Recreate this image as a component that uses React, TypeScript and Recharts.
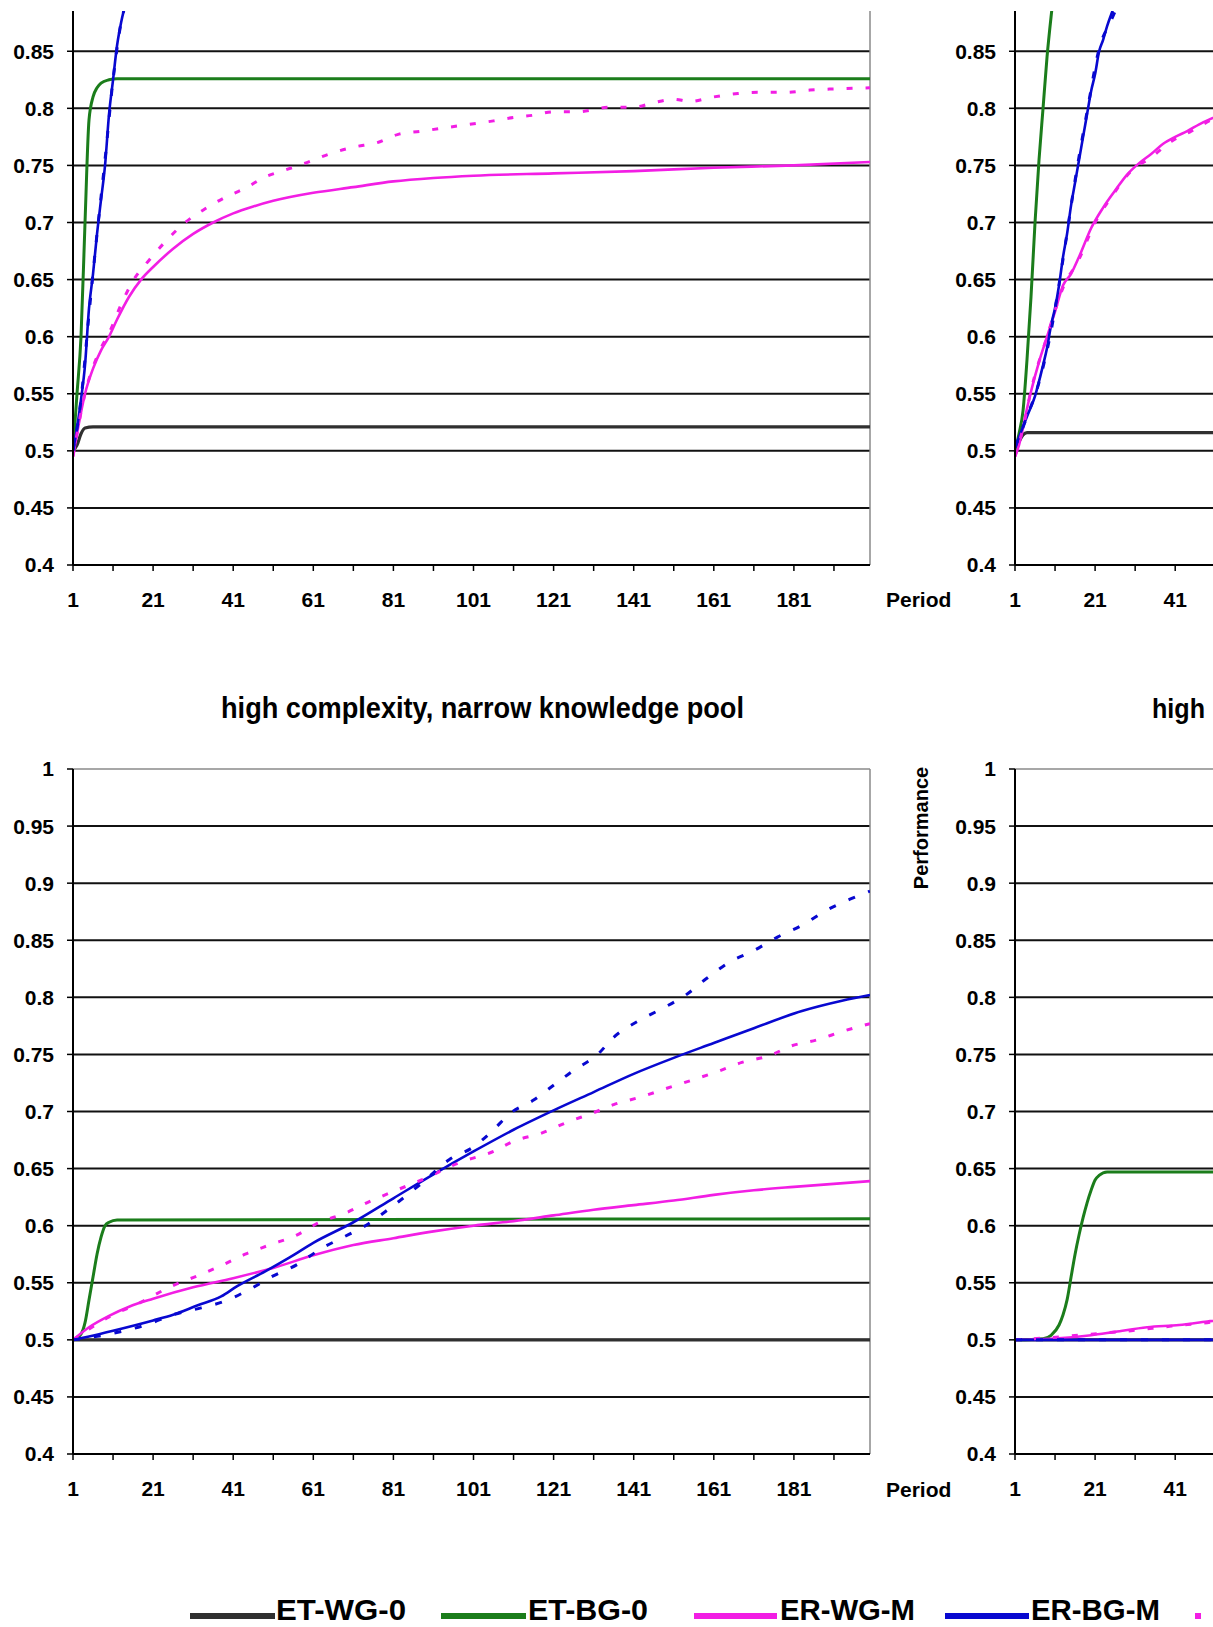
import { LineChart, Line, XAxis, YAxis, ReferenceLine } from 'recharts'

type Pt = [number, number]

// top-left panel
const tlEtWg0: Pt[] = [[1, 0.5], [2, 0.505], [3, 0.515], [4, 0.52], [6, 0.521], [200, 0.521]]
const tlEtBg0: Pt[] = [[1, 0.5], [2, 0.55], [3, 0.6], [4, 0.7], [5, 0.79], [6, 0.81], [7, 0.818], [8, 0.822], [10, 0.825], [12, 0.826], [200, 0.826]]
const tlErWgM: Pt[] = [[1, 0.495], [2, 0.515], [4, 0.55], [6, 0.572], [8, 0.588], [10, 0.6], [12, 0.615], [15, 0.635], [18, 0.65], [21, 0.661], [26, 0.677], [31, 0.69], [36, 0.7], [41, 0.708], [46, 0.714], [51, 0.719], [61, 0.726], [71, 0.731], [81, 0.736], [91, 0.739], [101, 0.741], [121, 0.743], [141, 0.745], [161, 0.748], [181, 0.75], [200, 0.753]]
const tlErBgM: Pt[] = [[1, 0.5], [2, 0.52], [3, 0.545], [4, 0.575], [5, 0.625], [6, 0.655], [7, 0.69], [8, 0.72], [9, 0.75], [10, 0.795], [11, 0.825], [12, 0.855], [13, 0.875], [14, 0.89], [16, 0.91], [20, 0.935], [30, 0.96], [50, 0.975], [100, 0.98], [200, 0.982]]
const tlErWg0: Pt[] = [[1, 0.495], [4, 0.55], [8, 0.59], [10, 0.603], [13, 0.628], [16, 0.649], [20, 0.667], [24, 0.683], [29, 0.7], [34, 0.712], [39, 0.722], [44, 0.73], [49, 0.74], [54, 0.746], [59, 0.752], [65, 0.76], [71, 0.766], [77, 0.77], [82, 0.777], [88, 0.78], [94, 0.783], [100, 0.786], [106, 0.789], [111, 0.792], [116, 0.794], [121, 0.797], [127, 0.797], [135, 0.801], [141, 0.801], [146, 0.805], [151, 0.808], [155, 0.806], [161, 0.81], [167, 0.813], [172, 0.814], [179, 0.814], [185, 0.816], [191, 0.817], [200, 0.818]]
const tlErBg0: Pt[] = [[1, 0.5], [3, 0.545], [5, 0.62], [7, 0.69], [9, 0.755], [11, 0.825], [13, 0.875], [15, 0.9], [20, 0.935], [30, 0.96], [50, 0.975], [100, 0.98], [200, 0.982]]

// top-right panel
const trEtWg0: Pt[] = [[1, 0.5], [2, 0.508], [3, 0.514], [4, 0.516], [200, 0.516]]
const trEtBg0: Pt[] = [[1, 0.5], [2, 0.515], [3, 0.535], [4, 0.58], [5, 0.635], [6, 0.7], [7, 0.755], [8, 0.8], [9, 0.845], [10, 0.88], [11, 0.91], [12, 0.935], [14, 0.96], [18, 0.975], [25, 0.98], [200, 0.98]]
const trErWgM: Pt[] = [[1, 0.495], [2, 0.505], [3, 0.52], [4, 0.537], [5, 0.552], [7, 0.578], [9, 0.6], [11, 0.622], [13, 0.645], [15, 0.655], [17, 0.67], [20, 0.695], [23, 0.713], [26, 0.728], [29, 0.742], [32, 0.752], [35, 0.76], [38, 0.769], [41, 0.775], [44, 0.78], [47, 0.786], [50, 0.791], [60, 0.805], [80, 0.825], [100, 0.838], [140, 0.85], [200, 0.86]]
const trErBgM: Pt[] = [[1, 0.503], [2, 0.512], [4, 0.53], [6, 0.548], [8, 0.575], [9, 0.59], [10, 0.61], [11, 0.625], [12, 0.645], [13, 0.67], [14, 0.69], [15, 0.715], [16, 0.735], [17, 0.755], [18, 0.775], [19, 0.795], [20, 0.815], [21, 0.83], [22, 0.85], [23, 0.86], [24, 0.872], [25, 0.882], [27, 0.9], [30, 0.92], [40, 0.955], [60, 0.975], [100, 0.98], [200, 0.982]]
const trErWg0: Pt[] = [[1, 0.495], [3, 0.52], [5, 0.553], [9, 0.6], [13, 0.643], [17, 0.668], [21, 0.7], [25, 0.722], [30, 0.745], [35, 0.757], [40, 0.771], [45, 0.78], [50, 0.79], [60, 0.806], [80, 0.826], [100, 0.84], [140, 0.853], [200, 0.862]]
const trErBg0: Pt[] = [[1, 0.503], [4, 0.53], [7, 0.56], [10, 0.605], [13, 0.668], [16, 0.737], [19, 0.797], [22, 0.852], [25, 0.877], [28, 0.9], [32, 0.925], [40, 0.95], [60, 0.97], [100, 0.978], [200, 0.98]]

// bottom-left panel (high complexity, narrow knowledge pool)
const blEtWg0: Pt[] = [[1, 0.5], [200, 0.5]]
const blEtBg0: Pt[] = [[1, 0.5], [3, 0.505], [4, 0.515], [5, 0.535], [6, 0.555], [7, 0.575], [8, 0.59], [9, 0.6], [10, 0.603], [12, 0.605], [200, 0.606]]
const blErWgM: Pt[] = [[1, 0.5], [5, 0.511], [10, 0.521], [15, 0.529], [21, 0.536], [31, 0.546], [41, 0.554], [51, 0.563], [61, 0.574], [71, 0.583], [81, 0.589], [91, 0.595], [101, 0.6], [111, 0.604], [121, 0.609], [131, 0.614], [141, 0.618], [151, 0.622], [161, 0.627], [171, 0.631], [181, 0.634], [200, 0.639]]
const blErBgM: Pt[] = [[1, 0.5], [5, 0.503], [11, 0.508], [21, 0.517], [26, 0.522], [32, 0.53], [38, 0.538], [42, 0.547], [49, 0.56], [55, 0.572], [61, 0.585], [71, 0.603], [81, 0.624], [91, 0.645], [101, 0.665], [111, 0.684], [121, 0.701], [131, 0.717], [141, 0.733], [151, 0.747], [161, 0.76], [171, 0.773], [183, 0.788], [193, 0.797], [200, 0.802]]
const blErWg0: Pt[] = [[1, 0.5], [10, 0.52], [18, 0.533], [25, 0.546], [32, 0.556], [38, 0.565], [44, 0.575], [50, 0.583], [57, 0.592], [62, 0.602], [69, 0.611], [75, 0.621], [81, 0.63], [88, 0.64], [98, 0.656], [106, 0.665], [111, 0.674], [118, 0.681], [124, 0.69], [131, 0.699], [136, 0.706], [143, 0.713], [149, 0.72], [156, 0.728], [162, 0.735], [168, 0.743], [175, 0.749], [180, 0.757], [187, 0.763], [193, 0.77], [200, 0.777]]
const blErBg0: Pt[] = [[1, 0.5], [10, 0.505], [20, 0.514], [26, 0.522], [33, 0.528], [39, 0.534], [45, 0.544], [51, 0.556], [57, 0.566], [63, 0.58], [68, 0.589], [74, 0.6], [80, 0.615], [88, 0.637], [95, 0.658], [101, 0.669], [106, 0.684], [110, 0.698], [116, 0.71], [121, 0.723], [126, 0.736], [132, 0.75], [136, 0.765], [142, 0.779], [148, 0.79], [154, 0.802], [159, 0.816], [165, 0.831], [171, 0.841], [177, 0.853], [183, 0.863], [189, 0.876], [195, 0.886], [200, 0.893]]

// bottom-right panel
const brEtWg0: Pt[] = [[1, 0.5], [200, 0.5]]
const brEtBg0: Pt[] = [[1, 0.5], [8, 0.501], [10, 0.504], [12, 0.513], [13, 0.522], [14, 0.535], [15, 0.555], [16, 0.575], [17, 0.592], [18, 0.607], [19, 0.62], [20, 0.631], [21, 0.64], [22, 0.644], [24, 0.647], [200, 0.647]]
const brErWgM: Pt[] = [[1, 0.5], [10, 0.501], [20, 0.504], [26, 0.507], [34, 0.511], [42, 0.513], [49, 0.516], [60, 0.52], [100, 0.533], [150, 0.546], [200, 0.556]]
const brErBgM: Pt[] = [[1, 0.5], [200, 0.5]]
const brErWg0: Pt[] = [[1, 0.5], [10, 0.502], [20, 0.505], [30, 0.508], [40, 0.512], [49, 0.515], [60, 0.52], [100, 0.534], [150, 0.548], [200, 0.558]]
const brErBg0: Pt[] = [[1, 0.5], [200, 0.5]]

// ticks; only those that fall inside the cropped view get labels
const xTicksFull = [1, 11, 21, 31, 41, 51, 61, 71, 81, 91, 101, 111, 121, 131, 141, 151, 161, 171, 181, 191]
const xTicksCut = [1, 11, 21, 31, 41]
const yTicksFull = [0.4, 0.45, 0.5, 0.55, 0.6, 0.65, 0.7, 0.75, 0.8, 0.85, 0.9, 0.95, 1]
const yTicksCut = [0.4, 0.45, 0.5, 0.55, 0.6, 0.65, 0.7, 0.75, 0.8, 0.85]
const gridValues = [0.45, 0.5, 0.55, 0.6, 0.65, 0.7, 0.75, 0.8, 0.85, 0.9, 0.95]
const legendNames = ['ET-WG-0', 'ET-BG-0', 'ER-WG-M', 'ER-BG-M']

const FONT = '"Liberation Sans", Arial, sans-serif'
const MAGENTA = '#f21ee4'
const BLUE = '#0808d0'
const GREEN = '#1b7d1b'
const DARK = '#303030'

const styles = [
  { color: DARK, width: 3.2 },
  { color: GREEN, width: 3 },
  { color: MAGENTA, width: 2.6 },
  { color: BLUE, width: 2.6 },
  { color: MAGENTA, width: 3, dash: '6 13' },
  { color: BLUE, width: 3, dash: '7 14' },
]

const toPts = (arr: Pt[]) => arr.map(([p, v]) => ({ p, v }))
const fmtX = (v: number) => ((v - 1) % 20 === 0 ? String(v) : '')
const fmtY = (v: number) => String(Number(v.toFixed(2)))

const tickStyle = { fill: '#000', fontSize: 21, fontWeight: 700, fontFamily: FONT }

function Panel({ series, xTicks, yTicks }: { series: Pt[][]; xTicks: number[]; yTicks: number[] }) {
  return (
    <LineChart width={960} height={765} margin={{ top: 20, right: 90, bottom: 0, left: 0 }}>
      <XAxis
        type="number"
        dataKey="p"
        domain={[1, 200]}
        ticks={xTicks}
        interval={0}
        tickFormatter={fmtX}
        tickSize={6}
        tickMargin={21}
        height={60}
        allowDataOverflow
        axisLine={{ stroke: '#000', strokeWidth: 2 }}
        tickLine={{ stroke: '#000', strokeWidth: 1.5 }}
        tick={tickStyle}
      />
      <YAxis
        type="number"
        domain={[0.4, 1]}
        ticks={yTicks}
        interval={0}
        tickFormatter={fmtY}
        width={73}
        tickSize={6}
        tickMargin={13}
        allowDataOverflow
        axisLine={{ stroke: '#000', strokeWidth: 2 }}
        tickLine={{ stroke: '#000', strokeWidth: 1.5 }}
        tick={tickStyle}
      />
      {gridValues.map((v) => (
        <ReferenceLine key={v} y={v} stroke="#111" strokeWidth={2} />
      ))}
      <ReferenceLine y={1} stroke="#8a8a8a" strokeWidth={1.5} />
      <ReferenceLine x={200} stroke="#8a8a8a" strokeWidth={1.5} />
      {series.map((s, i) => (
        <Line
          key={i}
          data={toPts(s)}
          dataKey="v"
          type="monotone"
          stroke={styles[i].color}
          strokeWidth={styles[i].width}
          strokeDasharray={styles[i].dash}
          dot={false}
          activeDot={false}
          isAnimationActive={false}
        />
      ))}
    </LineChart>
  )
}

const legendPos = [
  { x1: 190, x2: 275, tx: 276, tw: 130 },
  { x1: 441, x2: 526, tx: 528, tw: 120 },
  { x1: 694, x2: 777, tx: 780, tw: 135 },
  { x1: 945, x2: 1029, tx: 1031, tw: 129 },
]

export default function App() {
  return (
    <div style={{ position: 'absolute', left: 0, top: 0, width: 1213, height: 1627, overflow: 'hidden', background: '#fff' }}>
      <div style={{ position: 'absolute', left: 0, top: 11, width: 1213, height: 640, overflow: 'hidden' }}>
        <div style={{ position: 'absolute', left: 0, top: -151 }}>
          <Panel series={[tlEtWg0, tlEtBg0, tlErWgM, tlErBgM, tlErWg0, tlErBg0]} xTicks={xTicksFull} yTicks={yTicksCut} />
        </div>
        <div style={{ position: 'absolute', left: 942, top: -151 }}>
          <Panel series={[trEtWg0, trEtBg0, trErWgM, trErBgM, trErWg0, trErBg0]} xTicks={xTicksCut} yTicks={yTicksCut} />
        </div>
      </div>
      <div style={{ position: 'absolute', left: 0, top: 749 }}>
        <Panel series={[blEtWg0, blEtBg0, blErWgM, blErBgM, blErWg0, blErBg0]} xTicks={xTicksFull} yTicks={yTicksFull} />
      </div>
      <div style={{ position: 'absolute', left: 942, top: 749 }}>
        <Panel series={[brEtWg0, brEtBg0, brErWgM, brErBgM, brErWg0, brErBg0]} xTicks={xTicksCut} yTicks={yTicksFull} />
      </div>
      <svg width={1213} height={1627} style={{ position: 'absolute', left: 0, top: 0, pointerEvents: 'none' }} fontFamily={FONT} fontWeight={700}>
        <text x={221} y={718} fontSize={29} textLength={523} lengthAdjust="spacingAndGlyphs" fill="#000">
          high complexity, narrow knowledge pool
        </text>
        <text x={1152} y={718} fontSize={27} textLength={53} lengthAdjust="spacingAndGlyphs" fill="#000">
          high
        </text>
        <text x={886} y={607} fontSize={21} fill="#000">Period</text>
        <text x={886} y={1497} fontSize={21} fill="#000">Period</text>
        <text
          x={921}
          y={828}
          fontSize={20}
          textAnchor="middle"
          dominantBaseline="central"
          transform="rotate(-90 921 828)"
          fill="#000"
        >
          Performance
        </text>
        {legendNames.map((name, i) => (
          <g key={name}>
            <line x1={legendPos[i].x1} x2={legendPos[i].x2} y1={1616} y2={1616} stroke={styles[i].color} strokeWidth={6} />
            <text x={legendPos[i].tx} y={1620} fontSize={30} textLength={legendPos[i].tw} lengthAdjust="spacingAndGlyphs" fill="#000">
              {name}
            </text>
          </g>
        ))}
        <line x1={1195} x2={1213} y1={1616} y2={1616} stroke={MAGENTA} strokeWidth={6} strokeDasharray="6 12" />
      </svg>
    </div>
  )
}
